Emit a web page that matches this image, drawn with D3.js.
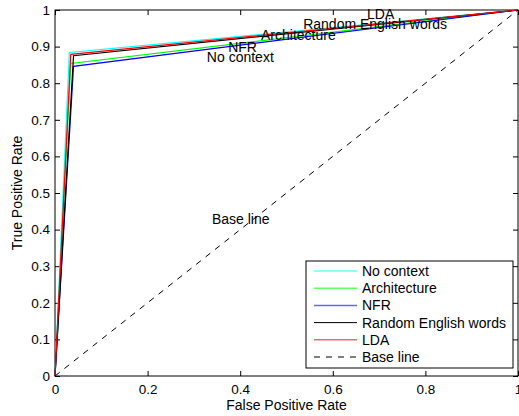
<!DOCTYPE html>
<html>
<head>
<meta charset="utf-8">
<script src="https://cdn.jsdelivr.net/npm/d3@7"></script>
<style>
body { margin: 0; background: #fff; }
text { font-family: "Liberation Sans", Arial, sans-serif; }
</style>
</head>
<body>
<script>
// series: each ROC curve is (0,0) -> (fpr, tpr) -> (1,1)
var names = ["No context", "Architecture", "NFR", "Random English words", "LDA"];
var colors = ["#00ffff", "#00ff00", "#0000ff", "#000000", "#ff0000"];
var fpr = [0.031, 0.034, 0.040, 0.040, 0.034];
var tpr = [0.884, 0.854, 0.846, 0.875, 0.879];
// label positions on the curves (data coords)
var labelX = [0.328, 0.445, 0.374, 0.536, 0.674];
var labelY = [0.859, 0.918, 0.885, 0.948, 0.975];
var labelOrder = [0, 2, 1, 3, 4];
var ticks = [0, 0.1, 0.2, 0.3, 0.4, 0.5, 0.6, 0.7, 0.8, 0.9, 1];
var xticks = [0, 0.2, 0.4, 0.6, 0.8, 1];

var larg = 519, haut = 416;
var mLeft = 55, mRight = 518, mTop = 10, mBottom = 376;

var svg = d3.select("body").append("svg")
	.attr("width", larg)
	.attr("height", haut);

var xScale = d3.scaleLinear().domain([0, 1]).range([mLeft, mRight]);
var yScale = d3.scaleLinear().domain([0, 1]).range([mBottom, mTop]);

// axes, ticks pointing inward
var fmt = function(d) { return d === 0 || d === 1 ? d3.format("d")(d) : d3.format(".1f")(d); };

svg.append("g").attr("transform", "translate(0," + mBottom + ")")
	.call(d3.axisBottom(xScale).tickValues(xticks).tickSizeInner(-5).tickSizeOuter(0).tickPadding(8).tickFormat(fmt));
svg.append("g").attr("transform", "translate(" + mLeft + ",0)")
	.call(d3.axisLeft(yScale).tickValues(ticks).tickSizeInner(-5).tickSizeOuter(0).tickPadding(5).tickFormat(fmt));
svg.append("g").attr("transform", "translate(0," + mTop + ")")
	.call(d3.axisTop(xScale).tickValues(xticks).tickSizeInner(-5).tickSizeOuter(0).tickFormat(""));
svg.append("g").attr("transform", "translate(" + mRight + ",0)")
	.call(d3.axisRight(yScale).tickValues(ticks).tickSizeInner(-5).tickSizeOuter(0).tickFormat(""));

svg.selectAll(".domain").remove();
svg.selectAll(".tick text").attr("font-size", "13.5px").attr("fill", "#000")
	.style("font-family", "Liberation Sans, Arial, sans-serif");
svg.selectAll(".tick line").attr("stroke", "#000");

svg.append("rect")
	.attr("x", mLeft).attr("y", mTop)
	.attr("width", mRight - mLeft).attr("height", mBottom - mTop)
	.attr("fill", "none").attr("stroke", "#000").attr("stroke-width", 1);

var line = d3.line().x(function(d) { return xScale(d[0]); }).y(function(d) { return yScale(d[1]); });

names.forEach(function(n, i) {
	svg.append("path")
		.datum([[0, 0], [fpr[i], tpr[i]], [1, 1]])
		.attr("d", line)
		.attr("fill", "none")
		.attr("stroke", colors[i])
		.attr("stroke-width", 1.2);
});

svg.append("path")
	.datum([[0, 0], [1, 1]])
	.attr("d", line)
	.attr("fill", "none")
	.attr("stroke", "#000")
	.attr("stroke-width", 1)
	.attr("stroke-dasharray", "6,6");

// labels on curves
labelOrder.forEach(function(i) {
	svg.append("text")
		.attr("x", xScale(labelX[i]))
		.attr("y", yScale(labelY[i]))
		.attr("font-size", "14px")
		.text(names[i]);
});
svg.append("text")
	.attr("x", xScale(0.339))
	.attr("y", yScale(0.415))
	.attr("font-size", "14px")
	.text("Base line");

// legend
var legX = 306, legY = 261, legW = 207, legH = 107;
var leg = svg.append("g");
leg.append("rect")
	.attr("x", legX).attr("y", legY).attr("width", legW).attr("height", legH)
	.attr("fill", "#fff").attr("stroke", "#000");
var legNames = names.concat(["Base line"]);
var legColors = colors.concat(["#000"]);
legNames.forEach(function(n, i) {
	var cy = legY + 10 + i * 17.2;
	leg.append("line")
		.attr("x1", legX + 8).attr("x2", legX + 51)
		.attr("y1", cy).attr("y2", cy)
		.attr("stroke", legColors[i])
		.attr("stroke-width", i === 3 || i === 5 ? 1 : 1.5)
		.attr("stroke-opacity", i === 3 || i === 5 ? 1 : 0.6)
		.attr("stroke-dasharray", i === 5 ? "6,6" : null);
	leg.append("text")
		.attr("x", legX + 56).attr("y", cy + 5)
		.attr("font-size", "14px")
		.text(n);
});

// axis titles
svg.append("text")
	.attr("x", (mLeft + mRight) / 2).attr("y", 410)
	.attr("text-anchor", "middle").attr("font-size", "14px")
	.text("False Positive Rate");
svg.append("text")
	.attr("transform", "translate(22," + ((mTop + mBottom) / 2) + ") rotate(-90)")
	.attr("text-anchor", "middle").attr("font-size", "14px")
	.text("True Positive Rate");
</script>
</body>
</html>
